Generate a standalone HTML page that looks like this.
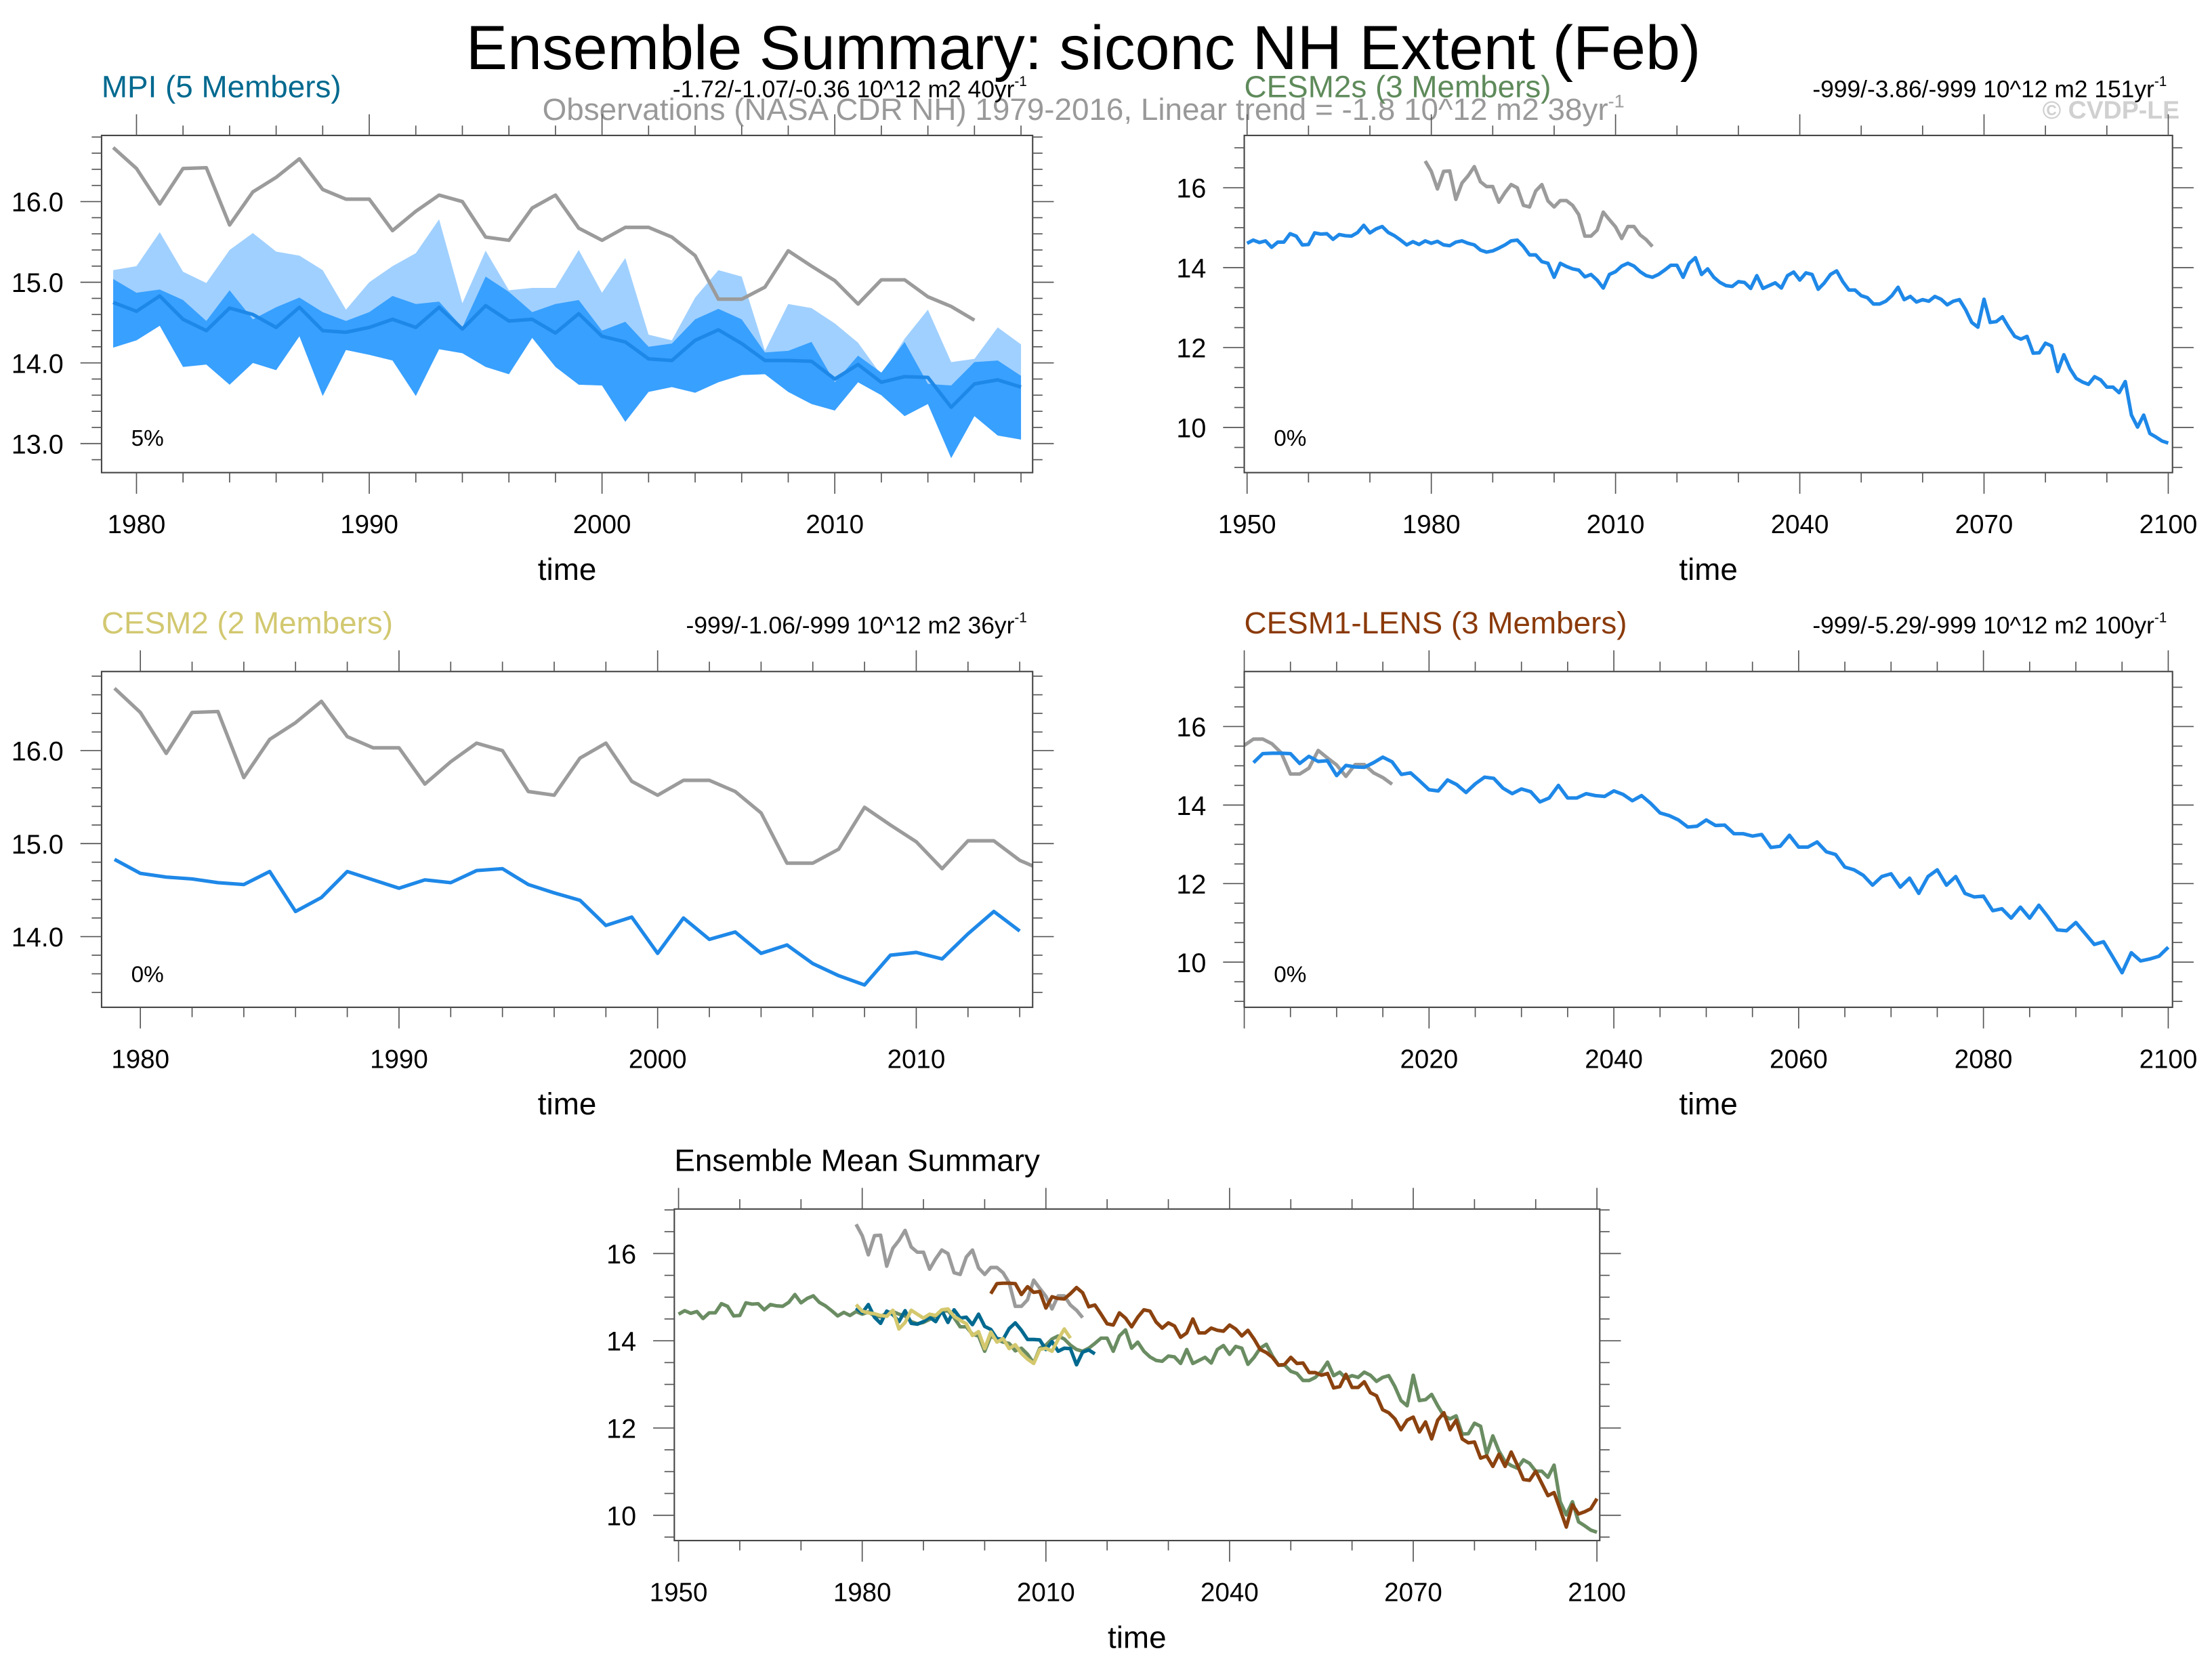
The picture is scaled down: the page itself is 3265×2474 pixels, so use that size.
<!DOCTYPE html>
<html><head><meta charset="utf-8"><style>
html,body{margin:0;padding:0;background:#fff}
svg{display:block}
text{font-family:"Liberation Sans",sans-serif}
</style></head><body>
<svg id="fig" width="3265" height="2474" viewBox="0 0 1568 1188" preserveAspectRatio="none" xmlns="http://www.w3.org/2000/svg">
<text x="768" y="49" font-size="44" text-anchor="middle" fill="#000">Ensemble Summary: siconc NH Extent (Feb)</text>
<text x="768" y="85" font-size="22" text-anchor="middle" fill="#999">Observations (NASA CDR NH) 1979-2016, Linear trend = -1.8 10^12 m2 38yr<tspan font-size="13" dy="-9">-1</tspan></text>
<text x="1545" y="84" font-size="18" font-weight="bold" text-anchor="end" fill="#d0d0d0">© CVDP-LE</text>
<g id="plots"></g>
</svg>
<script>
// ---- data ----
const obsYears0 = 1979;
const obsVals = [16.67,16.41,15.97,16.41,16.42,15.71,16.12,16.30,16.53,16.15,16.03,16.03,15.64,15.88,16.08,16.00,15.56,15.52,15.92,16.08,15.67,15.52,15.68,15.68,15.56,15.33,14.79,14.79,14.94,15.39,15.20,15.02,14.73,15.03,15.03,14.82,14.70,14.53];
const mpiYear0 = 1979;
const mpiMean = [14.75,14.64,14.83,14.54,14.40,14.68,14.60,14.44,14.69,14.40,14.38,14.44,14.54,14.44,14.69,14.42,14.71,14.52,14.54,14.37,14.61,14.33,14.26,14.05,14.03,14.28,14.41,14.24,14.03,14.03,14.02,13.80,13.98,13.76,13.83,13.82,13.45,13.74,13.79,13.70];
const mpiMax = [15.15,15.20,15.62,15.13,14.99,15.40,15.61,15.38,15.33,15.15,14.66,15.00,15.20,15.36,15.78,14.74,15.39,14.90,14.93,14.93,15.40,14.87,15.30,14.35,14.28,14.81,15.15,15.07,14.15,14.73,14.68,14.49,14.25,13.85,14.30,14.66,14.01,14.05,14.44,14.23];
const mpiUpper = [15.04,14.87,14.91,14.78,14.52,14.90,14.54,14.69,14.81,14.63,14.52,14.63,14.83,14.73,14.76,14.44,15.07,14.88,14.63,14.73,14.78,14.40,14.51,14.20,14.24,14.54,14.67,14.54,14.13,14.15,14.26,13.76,14.09,13.88,14.26,13.74,13.72,14.01,14.03,13.84];
const mpiMin = [14.19,14.28,14.46,13.95,13.98,13.73,14.00,13.91,14.33,13.59,14.16,14.10,14.03,13.59,14.17,14.12,13.95,13.86,14.31,13.95,13.73,13.72,13.27,13.64,13.70,13.63,13.76,13.85,13.86,13.64,13.49,13.41,13.76,13.60,13.34,13.49,12.82,13.34,13.10,13.05];
const cesm2Year0 = 1979;
const cesm2Vals = [14.83,14.68,14.64,14.62,14.58,14.56,14.70,14.27,14.42,14.70,14.61,14.52,14.61,14.58,14.71,14.73,14.56,14.47,14.39,14.12,14.21,13.82,14.20,13.97,14.05,13.82,13.91,13.71,13.58,13.48,13.80,13.83,13.76,14.03,14.27,14.06];
const cesm2sYear0 = 1950;
const cesm2sVals = [14.61,14.69,14.63,14.67,14.51,14.64,14.64,14.85,14.79,14.57,14.58,14.87,14.84,14.85,14.71,14.83,14.80,14.79,14.88,15.06,14.87,14.97,15.03,14.88,14.80,14.69,14.57,14.65,14.58,14.67,14.61,14.66,14.57,14.55,14.64,14.67,14.61,14.57,
14.44,14.39,14.42,14.49,14.57,14.67,14.69,14.53,14.32,14.32,14.15,14.11,13.76,14.11,14.03,13.97,13.94,13.77,13.83,13.69,13.49,13.83,13.90,14.04,14.11,14.04,13.90,
13.80,13.76,13.83,13.94,14.06,14.06,13.76,14.11,14.25,13.83,13.97,13.76,13.63,13.55,13.53,13.65,13.63,13.48,13.80,13.48,13.55,13.62,13.49,13.80,13.89,13.69,13.87,13.83,13.46,13.62,13.83,13.92,13.65,13.44,13.44,13.30,13.25,13.09,13.09,13.16,13.30,13.51,13.20,13.28,13.14,13.20,13.16,13.28,13.21,13.07,13.16,13.20,12.95,12.63,12.51,13.21,12.63,12.65,12.77,12.51,12.28,12.21,12.28,11.86,11.87,12.11,12.04,11.40,11.82,11.47,11.23,11.14,11.08,11.27,11.19,11.01,11.01,10.87,11.15,10.31,10.01,10.31,9.85,9.76,9.66,9.61];
const lensYear0 = 2001;
const lensVals = [15.08,15.31,15.32,15.32,15.31,15.06,15.24,15.11,15.13,14.75,15.01,14.97,14.96,15.08,15.22,15.10,14.78,14.82,14.61,14.39,14.36,14.64,14.52,14.32,14.54,14.71,14.68,14.43,14.29,14.41,14.34,14.08,14.18,14.50,14.18,14.18,14.29,14.24,14.22,14.36,14.27,14.11,14.24,14.04,13.80,13.73,13.62,13.44,13.46,13.62,13.48,13.49,13.27,13.27,13.21,13.25,12.92,12.95,13.23,12.93,12.93,13.06,12.81,12.74,12.42,12.35,12.21,11.96,12.18,12.25,11.91,12.14,11.75,12.18,12.35,11.96,12.18,11.75,11.66,11.68,11.31,11.36,11.12,11.40,11.12,11.45,11.15,10.82,10.80,11.01,10.73,10.45,10.52,10.13,9.73,10.24,10.03,10.08,10.15,10.38];

// ---- drawing ----
const NS = "http://www.w3.org/2000/svg";
const root = document.getElementById('plots');
function mk(tag, attrs, parent) {
  const e = document.createElementNS(NS, tag);
  for (const k in attrs) e.setAttribute(k, attrs[k]);
  (parent || root).appendChild(e);
  return e;
}
function makeAxes(c) {
  const sx = v => c.fx0 + (v - c.xd[0]) / (c.xd[1] - c.xd[0]) * (c.fx1 - c.fx0);
  const sy = v => c.fy1 - (v - c.yd[0]) / (c.yd[1] - c.yd[0]) * (c.fy1 - c.fy0);
  return {sx, sy};
}
function seriesPts(year0, vals, sx, sy, xmin) {
  const pts = [];
  vals.forEach((v, i) => { const yr = year0 + i; if (xmin === undefined || yr >= xmin) pts.push(sx(yr).toFixed(2) + ',' + sy(v).toFixed(2)); });
  return pts;
}
function drawPanel(c, drawData) {
  const g = mk('g', {});
  
  
  const {sx, sy} = makeAxes(c);
  const clipId = c.name + '-clip';
  const cp = mk('clipPath', {id: clipId}, g);
  mk('rect', {x: c.fx0, y: c.fy0, width: c.fx1 - c.fx0, height: c.fy1 - c.fy0}, cp);
  const dg = mk('g', {'clip-path': 'url(#' + clipId + ')'}, g);
  
  
  drawData(dg, sx, sy);
  const frame = mk('rect', {x: c.fx0, y: c.fy0, width: c.fx1 - c.fx0, height: c.fy1 - c.fy0, fill: 'none', stroke: '#444', 'stroke-width': 1}, g);
  
  
  const xt = mk('g', {stroke: '#555', 'stroke-width': 0.8}, g);
  
  
  for (let v = c.xMinorStart; v <= c.xd[1]; v += c.xMinor) {
    if (v < c.xd[0]) continue;
    const major = (((v - c.xMajorStart) % c.xMajor) + c.xMajor) % c.xMajor === 0;
    const L = major ? 15 : 7;
    const x = sx(v);
    mk('line', {x1: x, x2: x, y1: c.fy1, y2: c.fy1 + L}, xt);
    mk('line', {x1: x, x2: x, y1: c.fy0, y2: c.fy0 - L}, xt);
    if (major && !(c.skipX && c.skipX.includes(v))) {
      const t = mk('text', {x: x, y: c.fy1 + 43, 'font-size': 18.5, 'text-anchor': 'middle', fill: '#000', stroke: 'none'}, g);
      t.textContent = String(v);
      
      
    }
  }
  const yt = mk('g', {stroke: '#555', 'stroke-width': 0.8}, g);
  
  
  const n0 = Math.ceil(c.yd[0] / c.yMinor - 1e-6), n1 = Math.floor(c.yd[1] / c.yMinor + 1e-6);
  for (let n = n0; n <= n1; n++) {
    const v = n * c.yMinor;
    const major = Math.abs(v / c.yMajor - Math.round(v / c.yMajor)) < 1e-6;
    const L = major ? 15 : 7;
    const y = sy(v);
    mk('line', {x1: c.fx0, x2: c.fx0 - L, y1: y, y2: y}, yt);
    mk('line', {x1: c.fx1, x2: c.fx1 + L, y1: y, y2: y}, yt);
    if (major) {
      const t = mk('text', {x: c.fx0 - 27, y: y + 7, 'font-size': 19, 'text-anchor': 'end', fill: '#000'}, g);
      t.textContent = v.toFixed(c.yDec);
      
      
    }
  }
  const tt = mk('text', {x: (c.fx0 + c.fx1) / 2, y: c.fy1 + 76, 'font-size': 22, 'text-anchor': 'middle', fill: '#000'}, g);
  tt.textContent = 'time';
  
  
  if (c.title) {
    const t = mk('text', {x: c.fx0, y: c.fy0 - 27, 'font-size': 22, fill: c.titleColor}, g);
    t.textContent = c.title;
    
    
  }
  if (c.trend) {
    const t = mk('text', {x: c.fx1 - 4, y: c.fy0 - 27, 'font-size': 17, 'text-anchor': 'end', fill: '#000'}, g);
    t.textContent = c.trend;
    const s = mk('tspan', {'font-size': 10, dy: -8}, t);
    s.textContent = '-1';
    
    
  }
  if (c.pct) {
    const t = mk('text', {x: c.fx0 + 21, y: c.fy0 + 220, 'font-size': 16, fill: '#000'}, g);
    t.textContent = c.pct;
    
    
  }
}
function line(g, pts, color, w, name) {
  const p = mk('polyline', {points: pts.join(' '), fill: 'none', stroke: color, 'stroke-width': w, 'stroke-linejoin': 'round'}, g);
  
  
  return p;
}
function band(g, year0, up, lo, sx, sy, color, name) {
  const a = up.map((v, i) => sx(year0 + i).toFixed(2) + ',' + sy(v).toFixed(2));
  const b = lo.map((v, i) => sx(year0 + i).toFixed(2) + ',' + sy(v).toFixed(2)).reverse();
  const p = mk('polygon', {points: a.concat(b).join(' '), fill: color, stroke: 'none'}, g);
  
  
}
const GRAY = '#9b9b9b', BLUE = '#1e88e8';

drawPanel({name: 'mpi-panel', fx0: 72, fx1: 732, fy0: 96, fy1: 335, xd: [1978.5, 2018.5], yd: [12.64, 16.82],
  xMajorStart: 1980, xMajor: 10, xMinorStart: 1980, xMinor: 2, yMajor: 1, yMinor: 0.2, yDec: 1,
  title: 'MPI (5 Members)', titleColor: '#00698f', trend: '-1.72/-1.07/-0.36 10^12 m2 40yr', pct: '5%'},
  (g, sx, sy) => {
    band(g, mpiYear0, mpiMax, mpiMin, sx, sy, '#a0d0ff', 'mpi-range-band');
    band(g, mpiYear0, mpiUpper, mpiMin, sx, sy, '#38a0ff', 'mpi-spread-band');
    line(g, seriesPts(obsYears0, obsVals, sx, sy), GRAY, 2.5, 'obs-line');
    line(g, seriesPts(mpiYear0, mpiMean, sx, sy), BLUE, 2.5, 'mpi-mean-line');
  });
drawPanel({name: 'cesm2s-panel', fx0: 882, fx1: 1540, fy0: 96, fy1: 335, xd: [1949.54, 2100.69], yd: [8.87, 17.31],
  xMajorStart: 1950, xMajor: 30, xMinorStart: 1950, xMinor: 10, yMajor: 2, yMinor: 0.5, yDec: 0,
  title: 'CESM2s (3 Members)', titleColor: '#5e8a5a', trend: '-999/-3.86/-999 10^12 m2 151yr', pct: '0%'},
  (g, sx, sy) => {
    line(g, seriesPts(obsYears0, obsVals, sx, sy), GRAY, 2.5, 'obs-line');
    line(g, seriesPts(cesm2sYear0, cesm2sVals, sx, sy), BLUE, 2.5, 'cesm2s-line');
  });
drawPanel({name: 'cesm2-panel', fx0: 72, fx1: 732, fy0: 476, fy1: 714, xd: [1978.5, 2014.5], yd: [13.24, 16.85],
  xMajorStart: 1980, xMajor: 10, xMinorStart: 1980, xMinor: 2, yMajor: 1, yMinor: 0.2, yDec: 1,
  title: 'CESM2 (2 Members)', titleColor: '#d2c870', trend: '-999/-1.06/-999 10^12 m2 36yr', pct: '0%'},
  (g, sx, sy) => {
    line(g, seriesPts(obsYears0, obsVals, sx, sy), GRAY, 2.5, 'obs-line');
    line(g, seriesPts(cesm2Year0, cesm2Vals, sx, sy), BLUE, 2.5, 'cesm2-line');
  });
drawPanel({name: 'cesm1-lens-panel', fx0: 882, fx1: 1540, fy0: 476, fy1: 714, xd: [2000, 2100.46], yd: [8.85, 17.40],
  xMajorStart: 2020, xMajor: 20, xMinorStart: 2000, xMinor: 5, yMajor: 2, yMinor: 0.5, yDec: 0, skipX: [2000],
  title: 'CESM1-LENS (3 Members)', titleColor: '#8b3a0a', trend: '-999/-5.29/-999 10^12 m2 100yr', pct: '0%'},
  (g, sx, sy) => {
    line(g, seriesPts(obsYears0, obsVals, sx, sy, 2000), GRAY, 2.5, 'obs-line');
    line(g, seriesPts(lensYear0, lensVals, sx, sy), BLUE, 2.5, 'cesm1-lens-line');
  });
drawPanel({name: 'ensemble-mean-panel', fx0: 478, fx1: 1134, fy0: 857, fy1: 1092, xd: [1949.31, 2100.46], yd: [9.42, 17.02],
  xMajorStart: 1950, xMajor: 30, xMinorStart: 1950, xMinor: 10, yMajor: 2, yMinor: 0.5, yDec: 0,
  title: 'Ensemble Mean Summary', titleColor: '#000'},
  (g, sx, sy) => {
    line(g, seriesPts(obsYears0, obsVals, sx, sy), GRAY, 2.5, 'obs-line');
    line(g, seriesPts(cesm2sYear0, cesm2sVals, sx, sy), '#6a8c62', 2.5, 'cesm2s-mean-line');
    line(g, seriesPts(lensYear0, lensVals, sx, sy), '#8b420f', 2.5, 'cesm1-lens-mean-line');
    line(g, seriesPts(mpiYear0, mpiMean, sx, sy), '#00698f', 2.5, 'mpi-mean-line');
    line(g, seriesPts(cesm2Year0, cesm2Vals, sx, sy), '#d4c86e', 2.5, 'cesm2-mean-line');
  });
</script>
</body></html>
